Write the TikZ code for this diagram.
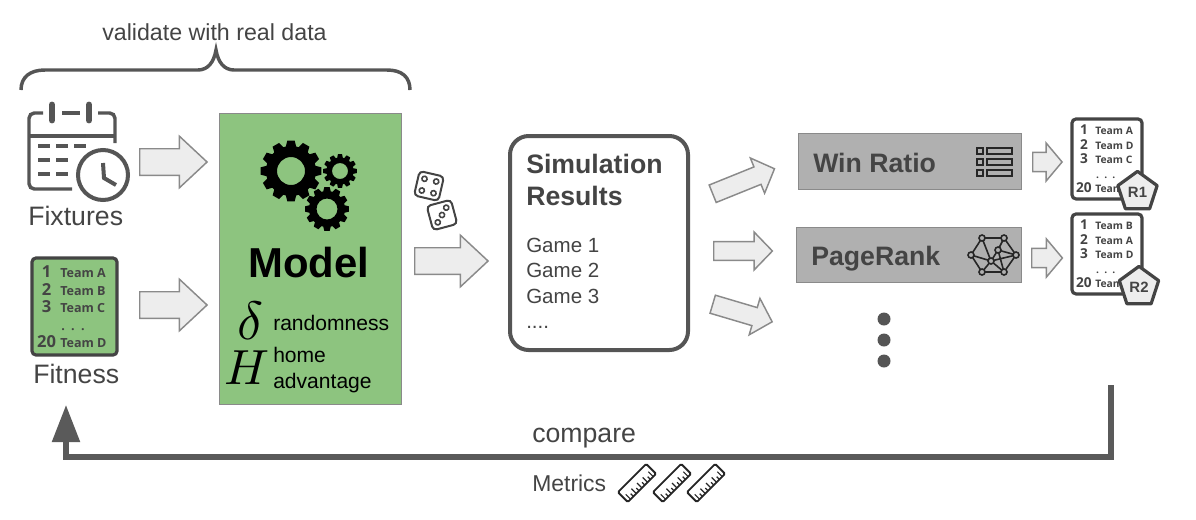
\documentclass[tikz,border=0pt]{standalone}
\usepackage{fontspec}
\setmainfont{Liberation Sans}
\newfontfamily\cardfont{Open Sans}
\usetikzlibrary{shapes.arrows,shapes.geometric,arrows.meta}

\definecolor{modelgreen}{HTML}{8DC47F}
\definecolor{darktext}{HTML}{444444}
\definecolor{iconline}{HTML}{555555}
\definecolor{arrowfill}{HTML}{EDEDED}
\definecolor{arrowline}{HTML}{8A8A8A}
\definecolor{methodgray}{HTML}{B0B0B0}
\definecolor{backline}{HTML}{5A5A5A}

\tikzset{
    blockarrow/.style={shape=single arrow, draw=arrowline, fill=arrowfill, line width=1.1pt,
        anchor=tail, inner xsep=0pt, single arrow head indent=0pt},
    bigarrow/.style={blockarrow, inner ysep=9.4pt, single arrow head extend=9.4pt, single arrow tip angle=86},
    midarrow/.style={blockarrow, inner ysep=6.5pt, single arrow head extend=7.2pt, single arrow tip angle=92},
    tinyarrow/.style={blockarrow, inner ysep=6.7pt, single arrow head extend=7pt, single arrow tip angle=100},
    labeltext/.style={anchor=base west, inner sep=0pt, text=darktext, font=\fontsize{20}{24}\selectfont},
    methodbox/.style={draw=arrowline, fill=methodgray, line width=1.1pt, anchor=north west, inner sep=0pt},
    methodtext/.style={labeltext, font=\bfseries\fontsize{20}{24}\selectfont},
    cardline/.style={draw=darktext, line width=2.4pt, rounded corners=3pt},
    badge/.style={shape=regular polygon, regular polygon sides=5, draw=darktext, fill=arrowfill,
        line width=2.4pt, line join=round, minimum size=31pt, inner sep=0pt,
        text=darktext, font=\bfseries\fontsize{11.2}{12}\selectfont},
    iconstroke/.style={draw=iconline, line width=2.6pt},
    blackstroke/.style={draw=black!85, line width=1.2pt},
}

\begin{document}
\begin{tikzpicture}[x=0.75pt, y=-0.75pt]
    \useasboundingbox (0,0) rectangle (1196,519);

    % Brace and its label
    \node[labeltext, font=\fontsize{17.4}{20}\selectfont] (validate) at (102,40) {validate with real data};
    \draw[iconstroke] (21,90) .. controls (21,77) and (30,70) .. (45,70) -- (198,70)
        .. controls (208,70) and (214,62) .. (216,50)
        .. controls (218,62) and (224,70) .. (234,70) -- (387,70)
        .. controls (402,70) and (410,77) .. (410,90);

    % Calendar icon
    \draw[iconstroke, rounded corners=4pt] (43,113) -- (29,113) -- (29,189) -- (72,189);
    \draw[iconstroke, rounded corners=4pt] (98,113) -- (115,113) -- (115,143);
    \draw[iconstroke] (62,113) -- (80,113);
    \draw[iconstroke] (29,136) -- (115,136);
    \foreach \ringx in {52,89} {
        \draw[iconstroke, line width=5.2pt, line cap=round] (\ringx,105) -- (\ringx,120);
    }
    \foreach \dashx/\dashy in {38/146,56/146,74/146,38/160,56/160,38/174,56/174} {
        \draw[iconstroke, line width=3pt] (\dashx,\dashy) -- ++(12,0);
    }
    \draw[iconstroke, line width=3pt, fill=white] (103,175) circle (25);
    \draw[iconstroke, line width=3pt] (103,163) -- (104,178) -- (116,185);
    \node[labeltext] (fixtures) at (28,225.5) {Fixtures};

    % Ranking cards: name/left/top/scale/fill/teams
    \foreach \nm/\lx/\ty/\s/\fillc/\ta/\tb/\tc/\td in {
        fit/32/258/1/modelgreen/A/B/C/Team D,
        ra/1072/119/0.824/white/A/D/C/Team,
        rb/1072/214/0.824/white/B/A/D/Team} {
        \draw[cardline, fill=\fillc] (\lx,\ty) rectangle ++({85*\s},{97*\s});
        \pgfmathsetmacro{\numsize}{12.4*\s}
        \pgfmathsetmacro{\teamsize}{9.4*\s}
        \foreach \rowy/\num/\team in {15/1/Team \ta,33/2/Team \tb,50/3/Team \tc,85/20/\td} {
            \node[anchor=base, inner sep=0pt, text=darktext, font=\cardfont\bfseries\fontsize{\numsize}{\numsize}\selectfont]
                (num\nm\num) at ({\lx+14.5*\s},{\ty+(\rowy+4.3)*\s}) {\num};
            \node[anchor=base west, inner sep=0pt, text=darktext, font=\cardfont\bfseries\fontsize{\teamsize}{\teamsize}\selectfont]
                (team\nm\num) at ({\lx+28*\s},{\ty+(\rowy+4.3)*\s}) {\team};
        }
        \node[anchor=base, inner sep=0pt, text=darktext, font=\cardfont\bfseries\fontsize{\teamsize}{\teamsize}\selectfont]
            (dots\nm) at ({\lx+41*\s},{\ty+72*\s}) {.\,\,\,.\,\,\,.};
    }
    \node[labeltext] (fitness) at (33,383) {Fitness};

    % Input arrows
    \node[bigarrow, minimum height=50.5pt] (infix) at (139,162) {};
    \node[bigarrow, minimum height=50.5pt] (infit) at (139,305) {};

    % Model block
    \node[draw=arrowline, fill=modelgreen, line width=1.1pt, anchor=north west, inner sep=0pt,
        minimum width=136.25pt, minimum height=218pt] (model) at (219,113) {};
    \foreach \cx/\cy/\router/\rroot/\rhole in {291/171/30.5/25/14, 340/171/17/13.5/8, 327/209/22/18/10.5} {
        \begin{scope}[shift={(\cx,\cy)}]
            \fill[black, even odd rule] (-12:\rroot)
                \foreach \k in {0,...,11} {
                    -- ({\k*30-12}:\rroot) -- ({\k*30-7}:\router) -- ({\k*30+7}:\router) -- ({\k*30+12}:\rroot)
                } -- cycle (0,0) circle (\rhole);
        \end{scope}
    }
    \node[labeltext, text=black, font=\bfseries\fontsize{31.4}{36}\selectfont] (modeltext) at (248,277) {Model};
    \node[anchor=base west, inner sep=0pt, scale=4.05] (delta) at (236,339) {$\delta$};
    \node[anchor=base west, inner sep=0pt, scale=3.7] (homeH) at (224,384) {$H$};
    \node[labeltext, text=black, font=\fontsize{15.8}{18}\selectfont] (random) at (273,330) {randomness};
    \node[labeltext, text=black, font=\fontsize{15.8}{18}\selectfont] (home) at (273,362) {home};
    \node[labeltext, text=black, font=\fontsize{15.8}{18}\selectfont] (advantage) at (273,388) {advantage};

    % Dice
    \begin{scope}[shift={(429,186)}, rotate=-13]
        \draw[draw=darktext, line width=1.5pt, fill=white, rounded corners=3pt] (-12.5,-12.5) rectangle (12.5,12.5);
        \foreach \px/\py in {-6/-6,6/-6,-6/6,6/6} {
            \draw[draw=darktext, line width=1.2pt] (\px,\py) circle (2.6);
        }
    \end{scope}
    \begin{scope}[shift={(442,215)}, rotate=15]
        \draw[draw=darktext, line width=1.5pt, fill=white, rounded corners=3pt] (-12.5,-12.5) rectangle (12.5,12.5);
        \foreach \px/\py in {-6/6,0/0,6/-6} {
            \draw[draw=darktext, line width=1.2pt] (\px,\py) circle (2.6);
        }
    \end{scope}

    % Arrow to the results
    \node[bigarrow, minimum height=55pt] (insim) at (414,261) {};

    % Simulation results
    \node[draw=iconline, line width=3pt, rounded corners=14pt, fill=white, anchor=north west, inner sep=0pt,
        minimum width=133.5pt, minimum height=160.5pt] (sim) at (508,134) {};
    \node[methodtext] (simone) at (526,173) {Simulation};
    \node[methodtext] (simtwo) at (526,205) {Results};
    \foreach \gy/\gt [count=\gi] in {252/Game 1,277/Game 2,303/Game 3} {
        \node[labeltext, font=\fontsize{15.4}{18}\selectfont] (game\gi) at (526,\gy) {\gt};
    }
    \node[labeltext, font=\fontsize{15.4}{18}\selectfont] (gamedots) at (526,328) {....};

    % Arrows to the methods
    \node[midarrow, rotate=22, minimum height=50pt] (outa) at (712,194) {};
    \node[midarrow, minimum height=44pt] (outb) at (713,251) {};
    \node[midarrow, rotate=-16.5, minimum height=46.5pt] (outc) at (712,304) {};

    % Win Ratio
    \node[methodbox, minimum width=167pt, minimum height=42pt] (winratio) at (798,133) {};
    \node[methodtext] (wintext) at (813,172) {Win Ratio};
    \foreach \rowy in {151,162,173} {
        \draw[blackstroke] (977,{\rowy-3}) rectangle (983,{\rowy+3});
        \draw[blackstroke] (987,{\rowy-3}) rectangle (1012,{\rowy+3});
    }

    % PageRank
    \node[methodbox, minimum width=168.5pt, minimum height=41pt] (pagerank) at (796,227) {};
    \node[methodtext] (pagetext) at (811,265) {PageRank};
    \foreach \nd/\nx/\ny in {a/982/238,b/1004/238,c/1016/255,d/1004/272,e/982/272,f/971/255,g/991/261,h/998/250} {
        \coordinate (net\nd) at (\nx,\ny);
    }
    \foreach \from/\to in {a/b,b/c,c/d,d/e,e/f,f/a,a/g,b/h,c/h,c/g,d/g,e/g,f/g,g/h,h/d} {
        \draw[blackstroke] (net\from) -- (net\to);
    }
    \foreach \nd in {a,b,c,d,e,f,g,h} {
        \draw[blackstroke, fill=methodgray] (net\nd) circle (3);
    }

    % Ellipsis below the methods
    \foreach \dy in {319,340,361} {
        \fill[iconline] (884,\dy) circle (6.5);
    }

    % Arrows to the rankings
    \node[tinyarrow, minimum height=22pt] (rankin) at (1032,162) {};
    \node[tinyarrow, minimum height=23pt] (rankout) at (1031,258) {};

    % Rank badges
    \node[badge] (badgeone) at (1137.5,192) {R1};
    \node[badge] (badgetwo) at (1139,287) {R2};

    % Comparison loop
    \coordinate (cmpstart) at (1111,385);
    \coordinate (cmpright) at (1111,457);
    \coordinate (cmpleft) at (66,457);
    \coordinate (cmpend) at (66,405);
    \draw[draw=backline, line width=4pt, -{Triangle[length=27.75pt, width=20.25pt]}]
        (cmpstart) -- (cmpright) -- (cmpleft) -- (cmpend);
    \node[labeltext] (compare) at (532,442) {compare};
    \node[labeltext, font=\fontsize{17.2}{20}\selectfont] (metrics) at (532,491) {Metrics};

    % Rulers
    \foreach \rulerx in {637,672,706} {
        \begin{scope}[shift={(\rulerx,483)}, rotate=45]
            \draw[draw=black!85, line width=1.4pt, rounded corners=1pt] (-20,-7) rectangle (20,7);
            \foreach \tick [count=\ti] in {-16,-12,...,16} {
                \pgfmathsetmacro{\ticktop}{mod(\ti,2)==1 ? 0 : 3}
                \draw[draw=black!85, line width=0.9pt] (\tick,\ticktop) -- (\tick,7);
            }
        \end{scope}
    }
\end{tikzpicture}
\end{document}
